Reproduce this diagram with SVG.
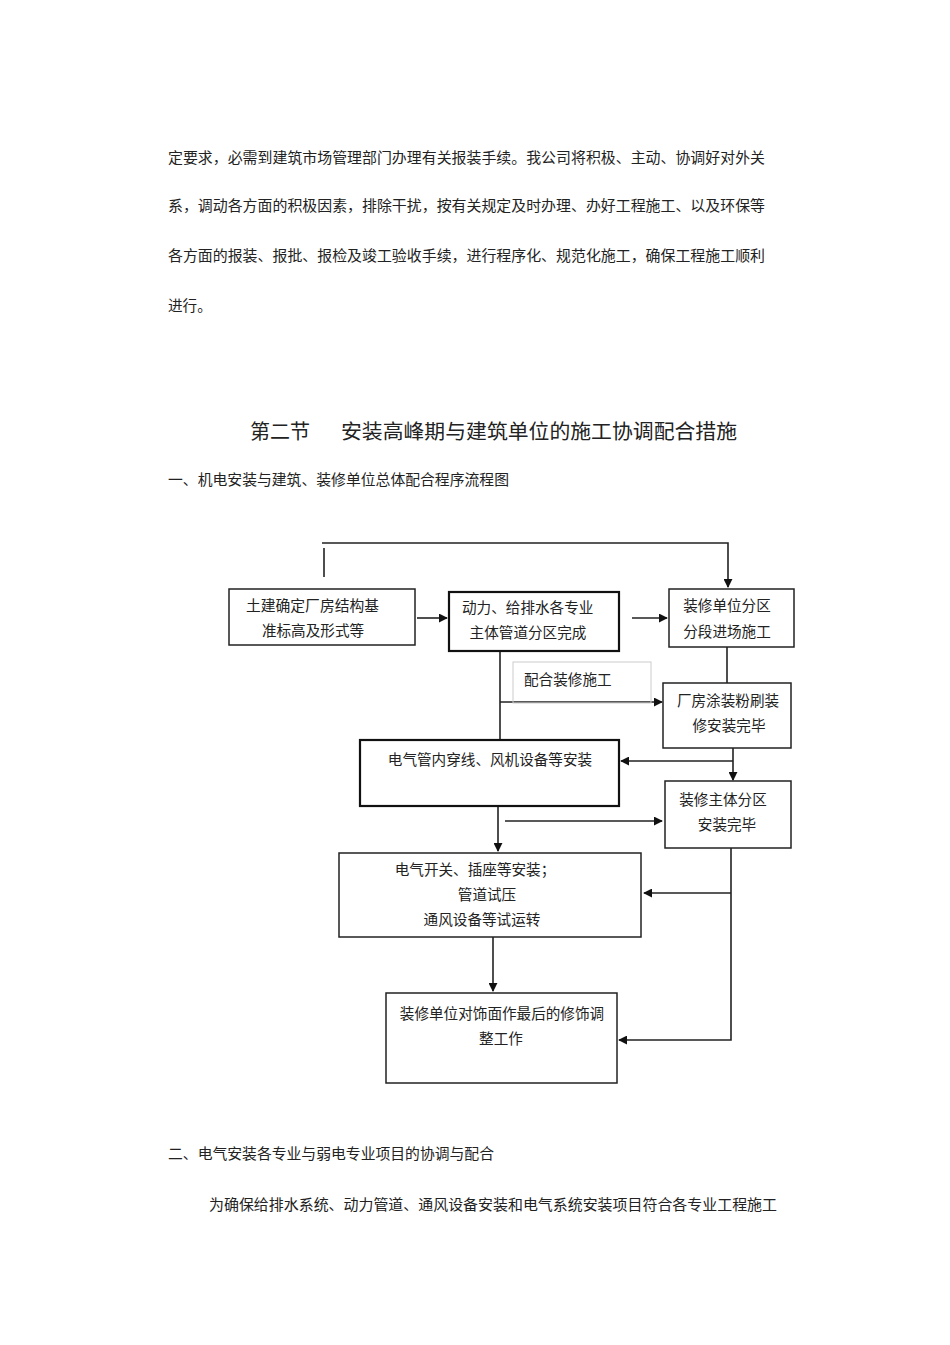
<svg xmlns="http://www.w3.org/2000/svg" width="950" height="1345" viewBox="0 0 950 1345">
<defs>
<style>
.t{font-family:"Noto Sans CJK SC","Liberation Sans",sans-serif;font-size:14.6px;fill:#222}
.h{font-family:"Noto Sans CJK SC","Liberation Sans",sans-serif;font-size:20px;fill:#222}
.n{font-family:"Noto Sans CJK SC","Liberation Sans",sans-serif;font-size:14.6px;fill:#222;text-anchor:middle}
.b{fill:#fff;stroke:#222;stroke-width:1.5}
.bt{fill:#fff;stroke:#111;stroke-width:2.2}
.c{fill:none;stroke:#222;stroke-width:1.6}
</style>
<marker id="ar" viewBox="0 0 10 10" refX="9" refY="5" markerWidth="9" markerHeight="9" markerUnits="userSpaceOnUse" orient="auto">
<path d="M0,0 L10,5 L0,10 z" fill="#111"/>
</marker>
</defs>
<rect width="950" height="1345" fill="#fff"/>
<g id="body">
<text class="t" x="168" y="163" textLength="597" lengthAdjust="spacingAndGlyphs">定要求，必需到建筑市场管理部门办理有关报装手续。我公司将积极、主动、协调好对外关</text>
<text class="t" x="168" y="211" textLength="597" lengthAdjust="spacingAndGlyphs">系，调动各方面的积极因素，排除干扰，按有关规定及时办理、办好工程施工、以及环保等</text>
<text class="t" x="168" y="261" textLength="597" lengthAdjust="spacingAndGlyphs">各方面的报装、报批、报检及竣工验收手续，进行程序化、规范化施工，确保工程施工顺利</text>
<text class="t" x="168" y="311">进行。</text>
<text class="h" x="250" y="439">第二节</text>
<text class="h" x="341" y="439" textLength="396" lengthAdjust="spacingAndGlyphs">安装高峰期与建筑单位的施工协调配合措施</text>
<text class="t" x="168" y="485" textLength="341" lengthAdjust="spacingAndGlyphs">一、机电安装与建筑、装修单位总体配合程序流程图</text>
<text class="t" x="168" y="1159" textLength="326" lengthAdjust="spacingAndGlyphs">二、电气安装各专业与弱电专业项目的协调与配合</text>
<text class="t" x="209" y="1210" textLength="568" lengthAdjust="spacingAndGlyphs">为确保给排水系统、动力管道、通风设备安装和电气系统安装项目符合各专业工程施工</text>
</g>
<g id="connectors">
<path class="c" d="M322,543 H728 V587" marker-end="url(#ar)"/>
<path class="c" d="M324,548 V577"/>
<path class="c" d="M417,618 H447" marker-end="url(#ar)"/>
<path class="c" d="M632,618 H667" marker-end="url(#ar)"/>
<path class="c" d="M500,651 V740"/>
<path class="c" d="M500,702 H662" marker-end="url(#ar)"/>
<path class="c" d="M727,647 V683"/>
<path class="c" d="M733,748 V780" marker-end="url(#ar)"/>
<path class="c" d="M733,761 H621" marker-end="url(#ar)"/>
<path class="c" d="M498,799 V851" marker-end="url(#ar)"/>
<path class="c" d="M505,821 H662" marker-end="url(#ar)"/>
<path class="c" d="M731,848 V1040 H619" marker-end="url(#ar)"/>
<path class="c" d="M731,893 H644" marker-end="url(#ar)"/>
<path class="c" d="M493,937 V991" marker-end="url(#ar)"/>
</g>
<g id="n1">
<rect class="b" x="229" y="589" width="186" height="56"/>
<text class="t" x="246" y="611" textLength="133" lengthAdjust="spacingAndGlyphs">土建确定厂房结构基</text>
<text class="n" x="313" y="636">准标高及形式等</text>
</g>
<g id="n2">
<rect class="bt" x="449" y="592" width="170" height="59"/>
<text class="t" x="462" y="613">动力、给排水各专业</text>
<text class="n" x="528" y="638">主体管道分区完成</text>
</g>
<g id="n3">
<rect class="b" x="669" y="589" width="125" height="58"/>
<text class="n" x="727" y="611">装修单位分区</text>
<text class="n" x="727" y="637">分段进场施工</text>
</g>
<g id="label">
<rect x="513" y="662" width="138" height="41" fill="none" stroke="#ccc" stroke-width="1"/>
<text class="t" x="524" y="685">配合装修施工</text>
</g>
<g id="n5">
<rect class="b" x="663" y="683" width="128" height="65"/>
<text class="n" x="728" y="706">厂房涂装粉刷装</text>
<text class="n" x="729" y="731">修安装完毕</text>
</g>
<g id="n4">
<rect class="bt" x="360" y="740" width="259" height="66"/>
<text class="n" x="490" y="765">电气管内穿线、风机设备等安装</text>
</g>
<g id="n6">
<rect class="b" x="665" y="781" width="126" height="67"/>
<text class="n" x="723" y="805">装修主体分区</text>
<text class="n" x="727" y="830">安装完毕</text>
</g>
<g id="n7">
<rect class="b" x="339" y="853" width="302" height="84"/>
<text class="n" x="475" y="875">电气开关、插座等安装；</text>
<text class="n" x="487" y="900">管道试压</text>
<text class="n" x="482" y="925">通风设备等试运转</text>
</g>
<g id="n8">
<rect class="b" x="386" y="993" width="231" height="90"/>
<text class="n" x="502" y="1019">装修单位对饰面作最后的修饰调</text>
<text class="n" x="501" y="1044">整工作</text>
</g>
</svg>
